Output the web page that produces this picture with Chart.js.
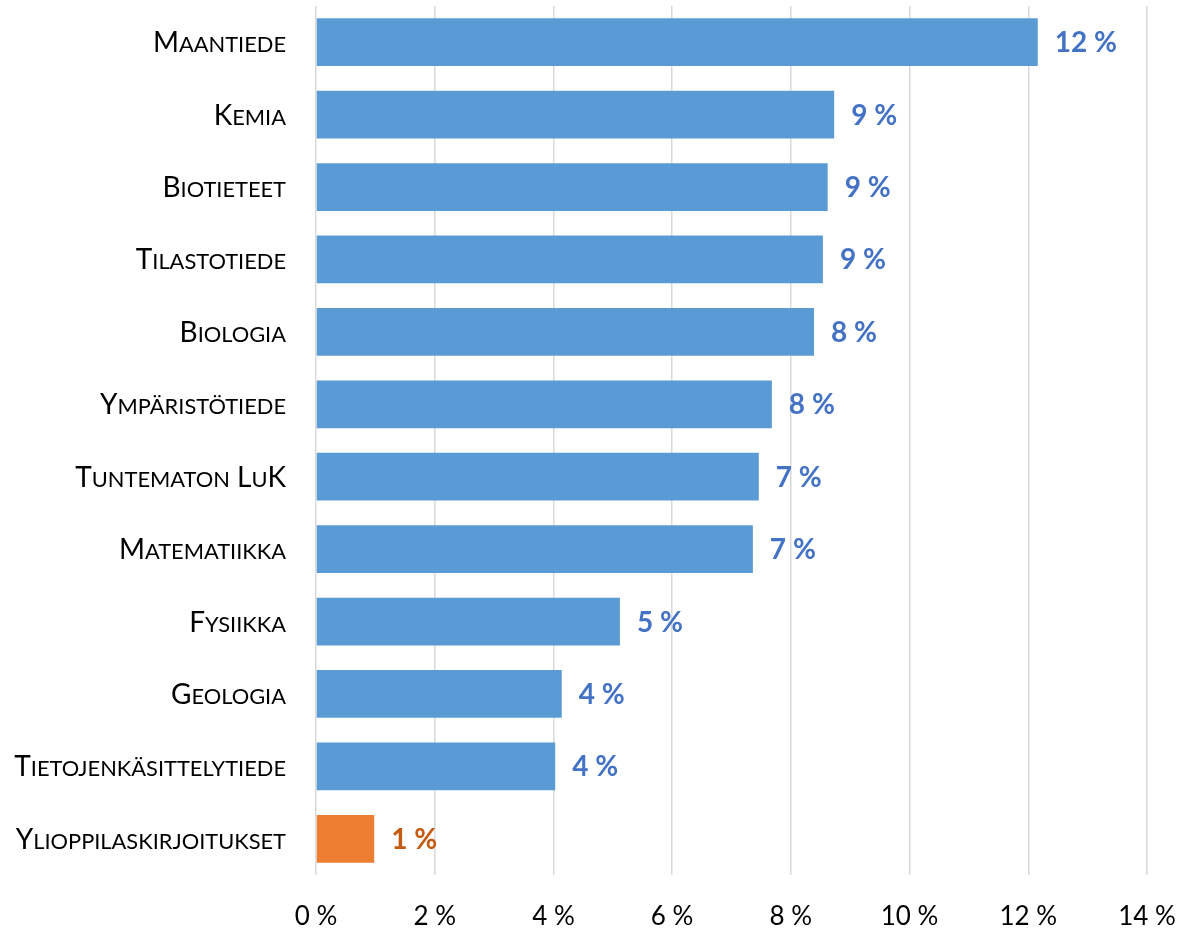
<!DOCTYPE html>
<html><head><meta charset="utf-8">
<script src="https://cdn.jsdelivr.net/npm/chart.js@4.4.1/dist/chart.umd.min.js"></script>
<style>html,body{margin:0;padding:0;background:#fff;} #wrap{width:1203px;height:930px;position:relative;}</style>
</head><body><div id="wrap"><canvas id="c"></canvas></div>
<script>
const categories = ['Maantiede','Kemia','Biotieteet','Tilastotiede','Biologia','Ympäristötiede','Tuntematon LuK','Matematiikka','Fysiikka','Geologia','Tietojenkäsittelytiede','Ylioppilaskirjoitukset'];
const values = [12.16, 8.73, 8.62, 8.54, 8.39, 7.68, 7.46, 7.36, 5.12, 4.14, 4.03, 0.98];
const valueLabels = ['12 %','9 %','9 %','9 %','8 %','8 %','7 %','7 %','5 %','4 %','4 %','1 %'];
const xTickValues = [0, 2, 4, 6, 8, 10, 12, 14];
const barColors = ['#5B9BD5','#5B9BD5','#5B9BD5','#5B9BD5','#5B9BD5','#5B9BD5','#5B9BD5','#5B9BD5','#5B9BD5','#5B9BD5','#5B9BD5','#ED7D31'];
const valueLabelColors = ['#4472C4','#4472C4','#4472C4','#4472C4','#4472C4','#4472C4','#4472C4','#4472C4','#4472C4','#4472C4','#4472C4','#C55A11'];

const FAMILY = 'Lato, "Noto Sans", sans-serif';
const LABEL_SIZE = 28, SMALL_RATIO = 0.78;

function drawSmallCaps(ctx, text, xRight, yBase) {
  const runs = [];
  for (const ch of text) {
    const small = ch !== ch.toUpperCase();
    if (runs.length && runs[runs.length-1].small === small) runs[runs.length-1].t += ch;
    else runs.push({small, t: ch});
  }
  let total = 0;
  for (const r of runs) {
    ctx.font = (r.small ? LABEL_SIZE*SMALL_RATIO : LABEL_SIZE) + 'px ' + FAMILY;
    r.w = ctx.measureText(r.t.toUpperCase()).width;
    total += r.w;
  }
  let x = xRight - total;
  ctx.textAlign = 'left';
  ctx.textBaseline = 'alphabetic';
  for (const r of runs) {
    ctx.font = (r.small ? LABEL_SIZE*SMALL_RATIO : LABEL_SIZE) + 'px ' + FAMILY;
    ctx.fillText(r.t.toUpperCase(), x, yBase);
    x += r.w;
  }
}

const labelPlugin = {
  id: 'customLabels',
  afterDatasetsDraw(chart) {
    const ctx = chart.ctx;
    ctx.save();
    ctx.fillStyle = '#000';
    const ys = chart.scales.y;
    categories.forEach((c, i) => {
      const y = ys.getPixelForValue(i);
      drawSmallCaps(ctx, c, 286, y + 10);
    });
    const meta = chart.getDatasetMeta(0);
    ctx.font = 'bold 28px ' + FAMILY;
    ctx.textAlign = 'left';
    ctx.textBaseline = 'middle';
    meta.data.forEach((bar, i) => {
      ctx.fillStyle = valueLabelColors[i];
      ctx.fillText(valueLabels[i], bar.x + 17, bar.y + 1);
    });
    ctx.restore();
  }
};

new Chart(document.getElementById('c'), {
  type: 'bar',
  data: {
    labels: categories,
    datasets: [{
      data: values,
      backgroundColor: barColors,
      borderWidth: 0,
      categoryPercentage: 0.66,
      barPercentage: 1.0
    }]
  },
  options: {
    indexAxis: 'y',
    responsive: true,
    maintainAspectRatio: false,
    animation: false,
    layout: { padding: { top: 6, right: 56, left: 0, bottom: 0 } },
    plugins: { legend: { display: false }, tooltip: { enabled: false } },
    scales: {
      x: {
        min: 0, max: 14,
        afterBuildTicks(scale) { scale.ticks = xTickValues.map(v => ({ value: v })); },
        afterFit(scale) { scale.height = 55; scale.paddingLeft = 0; scale.paddingRight = 0; },
        grid: { color: '#D9D9D9', lineWidth: 1.5, drawTicks: false },
        border: { display: false },
        ticks: {
          padding: 26,
          color: '#000',
          maxRotation: 0,
          font: { family: FAMILY, size: 26 },
          callback: v => v + ' %'
        }
      },
      y: {
        afterFit(scale) { scale.width = 316; scale.paddingTop = 0; scale.paddingBottom = 0; },
        grid: { display: false, drawTicks: false },
        border: { display: false },
        ticks: { display: false }
      }
    }
  },
  plugins: [labelPlugin]
});
</script>
</body></html>
